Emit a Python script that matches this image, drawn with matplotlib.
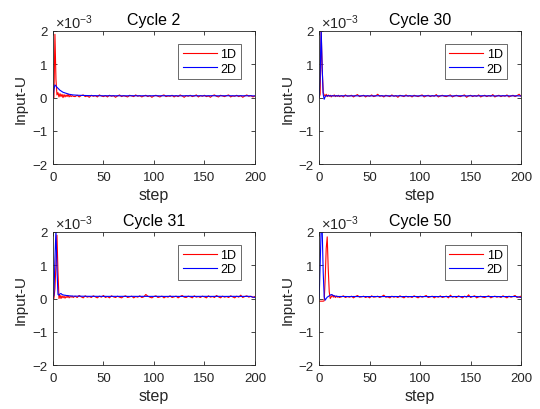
import numpy as np
import matplotlib
matplotlib.use("Agg")
import matplotlib.pyplot as plt

plt.rcParams['font.family'] = ['Liberation Sans', 'DejaVu Sans']
plt.rcParams['mathtext.fontset'] = 'custom'
plt.rcParams['mathtext.rm'] = 'Liberation Sans'
plt.rcParams['mathtext.it'] = 'Liberation Sans:italic'

# ---------------- data (units of 1e-3) ----------------
head_x = list(range(0, 21))
tail_x_red = list(range(22, 201, 2))
tail_x_blue = list(range(25, 201, 5))

# Cycle 2
c2_1d_head = [0.0, 0.0, 1.9, 0.55, 0.08, 0.15, 0.02, 0.12, 0.03, 0.10, 0.0,
              0.09, 0.02, 0.08, 0.03, 0.10, 0.02, 0.07, 0.03, 0.06, 0.04]
c2_1d_tail = [0.03, 0.07, 0.02, 0.06, 0.08, 0.03, 0.05, 0.01, 0.07, 0.04,
              0.06, 0.02, 0.08, 0.05, 0.03, 0.06, 0.02, 0.07, 0.04, 0.06,
              0.01, 0.05, 0.08, 0.03, 0.06, 0.04, 0.02, 0.07, 0.05, 0.03,
              0.08, 0.04, 0.06, 0.02, 0.05, 0.07, 0.03, 0.06, 0.01, 0.05,
              0.07, 0.04, 0.02, 0.06, 0.08, 0.03, 0.05, 0.04, 0.07, 0.02,
              0.06, 0.03, 0.08, 0.05, 0.01, 0.06, 0.04, 0.07, 0.03, 0.05,
              0.08, 0.02, 0.06, 0.04, 0.07, 0.03, 0.05, 0.01, 0.06, 0.08,
              0.04, 0.02, 0.07, 0.05, 0.03, 0.06, 0.08, 0.02, 0.05, 0.04,
              0.07, 0.03, 0.06, 0.01, 0.05, 0.08, 0.04, 0.06, 0.02, 0.05]
c2_2d_head = [0.0, 0.25, 0.38, 0.35, 0.31, 0.28, 0.25, 0.22, 0.20, 0.18, 0.16,
              0.15, 0.14, 0.13, 0.12, 0.11, 0.10, 0.095, 0.09, 0.085, 0.08]
c2_2d_tail = [0.07, 0.065, 0.06, 0.058, 0.056, 0.055, 0.056, 0.054, 0.055, 0.053,
              0.055, 0.056, 0.054, 0.055, 0.053, 0.056, 0.055, 0.054, 0.056, 0.055,
              0.053, 0.055, 0.056, 0.054, 0.055, 0.053, 0.056, 0.055, 0.054, 0.055,
              0.056, 0.053, 0.055, 0.054, 0.056, 0.05]

# Cycle 30
c30_1d_head = [0.0, 0.1, 2.0, 0.9, 0.15, 0.08, 0.05, 0.10, 0.03, 0.08, 0.04,
               0.07, 0.02, 0.06, 0.05, 0.08, 0.03, 0.06, 0.04, 0.07, 0.03]
c30_1d_tail = [0.06, 0.02, 0.08, 0.04, 0.05, 0.07, 0.02, 0.06, 0.09, 0.03,
               0.05, 0.07, 0.02, 0.06, 0.04, 0.08, 0.03, 0.05, 0.10, 0.04,
               0.06, 0.02, 0.07, 0.05, 0.03, 0.08, 0.04, 0.06, 0.01, 0.07,
               0.05, 0.03, 0.08, 0.04, 0.06, 0.02, 0.07, 0.05, 0.03, 0.06,
               0.08, 0.02, 0.05, 0.07, 0.03, 0.06, 0.04, 0.09, 0.02, 0.05,
               0.07, 0.04, 0.03, 0.06, 0.08, 0.02, 0.05, 0.07, 0.04, 0.03,
               0.06, 0.08, 0.01, 0.05, 0.07, 0.03, 0.06, 0.04, 0.08, 0.02,
               0.05, 0.07, 0.03, 0.06, 0.04, 0.09, 0.02, 0.05, 0.07, 0.03,
               0.06, 0.04, 0.08, 0.02, 0.05, 0.07, 0.03, 0.06, 0.10, 0.04]
c30_2d_head = [0.0, 0.6, 2.1, 0.9, 0.10, -0.05, 0.03, 0.06, 0.05, 0.06, 0.05,
               0.055, 0.05, 0.055, 0.05, 0.055, 0.05, 0.055, 0.05, 0.055, 0.05]
c30_2d_tail = [0.055, 0.05, 0.054, 0.052, 0.055, 0.05, 0.053, 0.055, 0.051, 0.054,
               0.05, 0.055, 0.052, 0.054, 0.05, 0.053, 0.055, 0.051, 0.054, 0.052,
               0.055, 0.05, 0.053, 0.055, 0.051, 0.054, 0.05, 0.055, 0.052, 0.054,
               0.05, 0.053, 0.055, 0.051, 0.054, 0.05]

# Cycle 31
c31_1d_head = [0.0, 0.0, 0.3, 1.0, 1.9, 0.8, 0.0, 0.10, 0.0, 0.08, 0.02,
               0.07, 0.01, 0.06, 0.03, 0.08, 0.02, 0.06, 0.04, 0.07, 0.03]
c31_1d_tail = [0.07, 0.03, 0.09, 0.05, 0.02, 0.08, 0.04, 0.06, 0.03, 0.08,
               0.05, 0.02, 0.07, 0.04, 0.09, 0.03, 0.06, 0.02, 0.08, 0.05,
               0.03, 0.07, 0.04, 0.02, 0.06, 0.08, 0.03, 0.05, 0.07, 0.02,
               0.06, 0.04, 0.08, 0.03, 0.05, 0.12, 0.07, 0.04, 0.02, 0.06,
               0.08, 0.03, 0.05, 0.07, 0.02, 0.06, 0.04, 0.08, 0.03, 0.05,
               0.07, 0.02, 0.06, 0.09, 0.04, 0.03, 0.07, 0.05, 0.02, 0.08,
               0.04, 0.06, 0.03, 0.07, 0.05, 0.02, 0.08, 0.04, 0.06, 0.03,
               0.09, 0.05, 0.02, 0.07, 0.04, 0.06, 0.03, 0.08, 0.05, 0.02,
               0.07, 0.04, 0.10, 0.03, 0.06, 0.08, 0.04, 0.07, 0.03, 0.06]
c31_2d_head = [0.0, 0.1, 1.2, 2.05, 0.9, 0.12, 0.10, 0.14, 0.15, 0.12, 0.11,
               0.10, 0.10, 0.09, 0.09, 0.085, 0.08, 0.08, 0.075, 0.075, 0.07]
c31_2d_tail = [0.07, 0.068, 0.066, 0.066, 0.065, 0.065, 0.064, 0.065, 0.064, 0.065,
               0.063, 0.065, 0.064, 0.065, 0.063, 0.064, 0.065, 0.063, 0.064, 0.065,
               0.063, 0.064, 0.065, 0.063, 0.064, 0.065, 0.063, 0.064, 0.065, 0.063,
               0.064, 0.065, 0.063, 0.064, 0.065, 0.03]

# Cycle 50
c50_1d_head = [-0.08, -0.08, -0.08, -0.08, -0.08, -0.07, 0.6, 1.5, 1.85, 0.9, 0.2,
               0.0, 0.05, 0.10, 0.04, 0.08, 0.03, 0.07, 0.04, 0.06, 0.03]
c50_1d_tail = [0.05, 0.08, 0.03, 0.06, 0.04, 0.07, 0.02, 0.06, 0.09, 0.04,
               0.05, 0.07, 0.03, 0.06, 0.02, 0.08, 0.04, 0.05, 0.07, 0.03,
               0.06, 0.10, 0.04, 0.05, 0.02, 0.07, 0.04, 0.06, 0.03, 0.08,
               0.05, 0.02, 0.07, 0.04, 0.06, 0.03, 0.08, 0.05, 0.02, 0.07,
               0.04, 0.06, 0.09, 0.03, 0.05, 0.07, 0.02, 0.06, 0.04, 0.08,
               0.03, 0.05, 0.07, 0.02, 0.10, 0.04, 0.06, 0.03, 0.08, 0.05,
               0.02, 0.07, 0.04, 0.11, 0.03, 0.06, 0.08, 0.02, 0.05, 0.07,
               0.04, 0.03, 0.06, 0.08, 0.02, 0.05, 0.07, 0.04, 0.06, 0.03,
               0.08, 0.05, 0.02, 0.07, 0.04, 0.06, 0.09, 0.03, 0.05, 0.07]
c50_2d_head = [0.0, 1.0, 2.1, 2.1, 0.8, 0.05, -0.05, 0.0, 0.04, 0.06, 0.08,
               0.10, 0.12, 0.11, 0.09, 0.08, 0.07, 0.07, 0.065, 0.06, 0.06]
c50_2d_tail = [0.06, 0.058, 0.06, 0.057, 0.059, 0.058, 0.06, 0.057, 0.059, 0.058,
               0.06, 0.057, 0.059, 0.058, 0.06, 0.057, 0.059, 0.058, 0.06, 0.057,
               0.059, 0.058, 0.06, 0.057, 0.059, 0.058, 0.06, 0.057, 0.059, 0.058,
               0.06, 0.057, 0.059, 0.058, 0.06, 0.03]

titles = ["Cycle 2", "Cycle 30", "Cycle 31", "Cycle 50"]
series_1d = [(c2_1d_head, c2_1d_tail), (c30_1d_head, c30_1d_tail),
             (c31_1d_head, c31_1d_tail), (c50_1d_head, c50_1d_tail)]
series_2d = [(c2_2d_head, c2_2d_tail), (c30_2d_head, c30_2d_tail),
             (c31_2d_head, c31_2d_tail), (c50_2d_head, c50_2d_tail)]

# ---------------- figure ----------------
fig = plt.figure(figsize=(5.4, 4.1), dpi=100)
fig.patch.set_facecolor('white')

# axes rects in figure fractions (left, bottom, width, height)
rects = [(0.098, 0.597, 0.374, 0.325), (0.591, 0.597, 0.374, 0.325),
         (0.098, 0.107, 0.374, 0.325), (0.591, 0.107, 0.374, 0.325)]
dark = '#262626'

for i in range(4):
    ax = fig.add_axes(rects[i])
    h1, t1 = series_1d[i]
    h2, t2 = series_2d[i]
    ax.plot(head_x + tail_x_red, h1 + t1, color='red', lw=0.8, label='1D')
    ax.plot(head_x + tail_x_blue, h2 + t2, color='blue', lw=0.8, label='2D')

    ax.set_xlim(0, 200)
    ax.set_ylim(-2, 2)
    ax.set_xticks([0, 50, 100, 150, 200])
    ax.set_yticks([-2, -1, 0, 1, 2])
    ax.tick_params(direction='in', top=True, right=True, length=3,
                   width=0.6, colors=dark, labelsize=9.5)
    ax.tick_params(axis='x', pad=5)
    ax.tick_params(axis='y', pad=4)
    for s in ax.spines.values():
        s.set_color(dark)
        s.set_linewidth(0.6)

    ax.set_title(titles[i], fontsize=11.5, color='black', pad=5)
    ax.set_xlabel('step', fontsize=11.5, color=dark, labelpad=3)
    ax.set_ylabel('Input-U', fontsize=11, color=dark, labelpad=3)
    ax.text(0.01, 1.0, r'$\times10^{-3}$', transform=ax.transAxes,
            fontsize=10.5, color=dark, ha='left', va='bottom')

    leg = ax.legend(loc='upper right', bbox_to_anchor=(0.93, 0.905),
                    fontsize=9, frameon=True, fancybox=False,
                    handlelength=2.7, handletextpad=0.3, borderpad=0.35,
                    labelspacing=0.2, borderaxespad=0)
    leg.get_frame().set_edgecolor(dark)
    leg.get_frame().set_linewidth(0.6)

fig.savefig('out.png', dpi=100)
